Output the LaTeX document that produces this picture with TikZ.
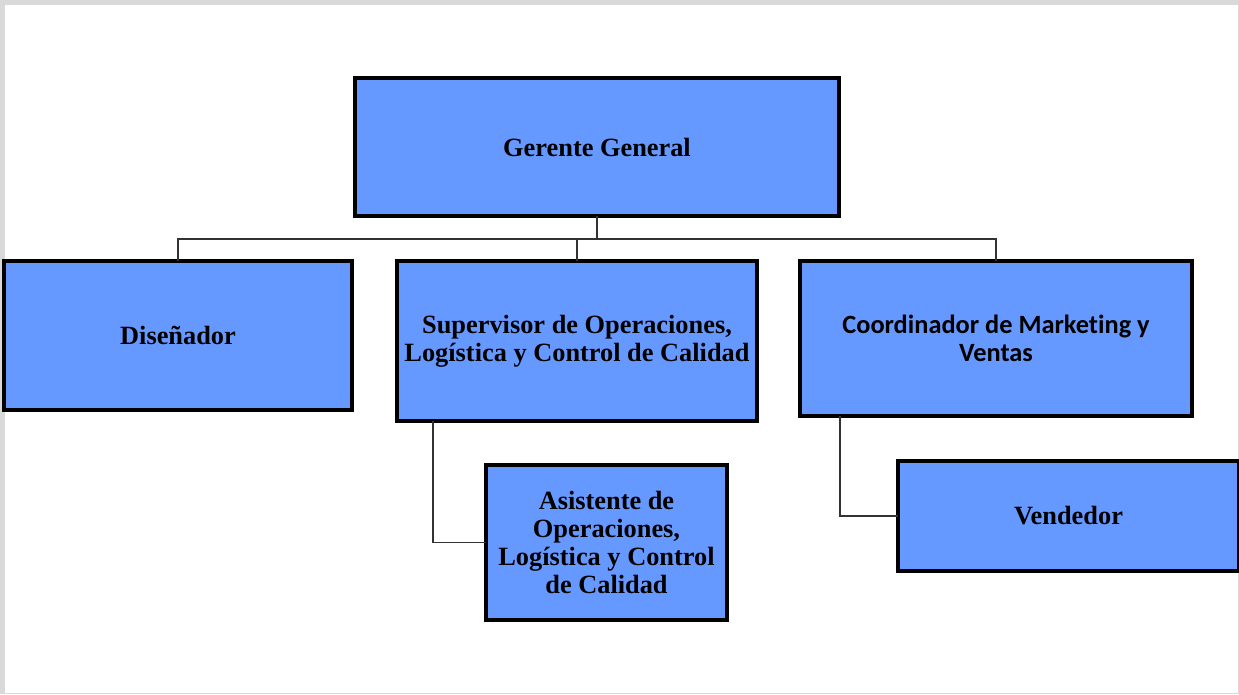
\documentclass[tikz,border=0pt]{standalone}
\usepackage{fontspec}
\setmainfont{Liberation Serif}
\newfontfamily\calibrifont[Ligatures=NoCommon]{Carlito}
\usepackage{tikz}
\usetikzlibrary{positioning}
\definecolor{cajaazul}{HTML}{6699FF}
\definecolor{marcogris}{HTML}{D9D9D9}

\begin{document}
\begin{tikzpicture}[x=0.02cm, y=-0.02cm, font=\fontsize{15}{16}\selectfont\bfseries]
	\tikzstyle{cargo} = [rectangle, draw=black, line width=1.8pt, fill=cajaazul, inner sep=0pt, outer sep=0pt, align=center]
	
	\tikzstyle{linea} = [draw=black!80, line width=0.8pt]
	
	% marco de la pagina
	\useasboundingbox (0,0) rectangle (1239,694);
	\fill[marcogris] (0,0) rectangle (1239,694);
	\fill[white] (4.5,4.5) rectangle (1237.5,692.5);
	
	% Nivel 0
	\node (gerente) [cargo, minimum width=9.68cm, minimum height=2.76cm] at (597,147) {Gerente General};
	
	% Nivel 1
	\node (disenador) [cargo, minimum width=6.96cm, minimum height=2.98cm] at (178,335.5) {Diseñador};
	\node (supervisor) [cargo, minimum width=7.2cm, minimum height=3.2cm] at (577,341) {Supervisor de Operaciones,\\Logística y Control de Calidad};
	\node (coordinador) [cargo, minimum width=7.84cm, minimum height=3.1cm, font=\fontsize{15}{16}\selectfont\calibrifont\bfseries] at (996,338.5) {Coordinador de Marketing y\\Ventas};
	
	% Nivel 2
	\node (asistente) [cargo, minimum width=4.82cm, minimum height=3.1cm] at (606.5,542.5) {Asistente de\\Operaciones,\\Logística y Control\\de Calidad};
	\node (vendedor) [cargo, minimum width=6.82cm, minimum height=2.2cm] at (1068.5,516) {Vendedor};
	
	% Lineas
	\coordinate (barra) at (597,239);
	\draw [linea] (gerente.south) -- (barra);
	\draw [linea] (barra) -| (disenador.north);
	\draw [linea] (barra) -| (supervisor.north);
	\draw [linea] (barra) -| (coordinador.north);
	
	\draw [linea] (supervisor.south -| 433,0) |- (asistente.west);
	\draw [linea] (coordinador.south -| 840,0) |- (vendedor.west);
\end{tikzpicture}
\end{document}
